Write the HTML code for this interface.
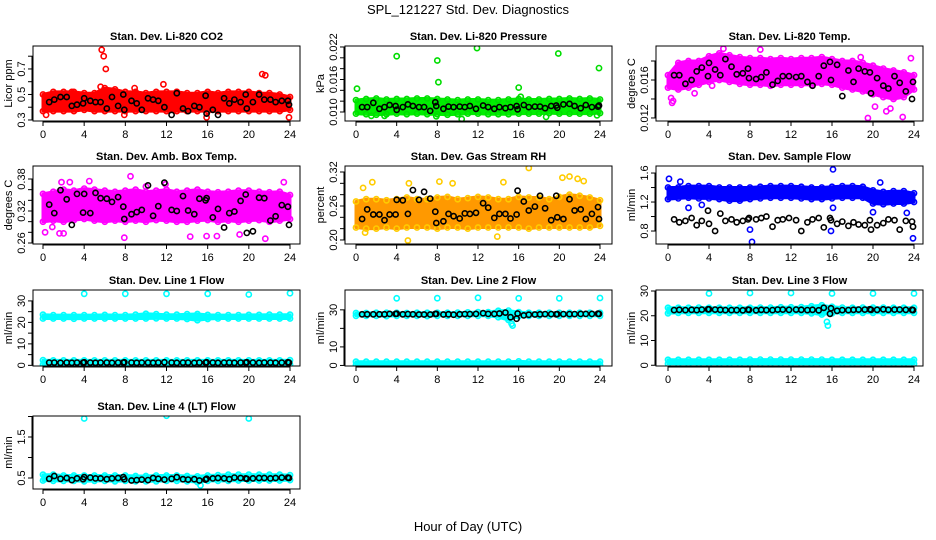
<!DOCTYPE html>
<html><head><meta charset="utf-8"><style>
html,body{margin:0;padding:0;background:#fff;}
svg{display:block;font-family:"Liberation Sans",sans-serif;}
</style></head><body>
<svg id="chart" width="936" height="540" viewBox="0 0 936 540" xmlns="http://www.w3.org/2000/svg">
<rect width="936" height="540" fill="#fff"/>
<text x="468" y="14" font-size="13" text-anchor="middle">SPL_121227  Std. Dev. Diagnostics</text>
<text x="468" y="531" font-size="13" text-anchor="middle">Hour of Day (UTC)</text>
</svg>
<script>
const xTicks=[0,4,8,12,16,20,24];
const bandHours=[0,1,2,3,4,5,6,7,8,9,10,11,12,13,14,15,16,17,18,19,20,21,22,23,24];
const blackHours=[0.6,1.1,1.7,2.3,2.8,3.3,3.9,4.0,4.6,5.1,5.6,6.2,6.7,7.3,7.8,7.9,8.6,9.1,9.6,10.2,10.7,11.2,11.8,12.5,13.0,13.6,14.1,14.7,15.2,15.8,15.9,16.5,17.0,17.6,18.1,18.6,19.2,19.7,19.8,20.4,21.0,21.5,22.1,22.6,23.2,23.8,23.9];

const co2Lo=[0.37,0.37,0.37,0.37,0.38,0.37,0.37,0.37,0.37,0.37,0.37,0.37,0.37,0.37,0.37,0.37,0.37,0.37,0.37,0.37,0.37,0.37,0.37,0.37,0.38];
const co2Hi=[0.50,0.52,0.52,0.52,0.51,0.51,0.55,0.54,0.52,0.52,0.51,0.52,0.52,0.52,0.51,0.51,0.52,0.51,0.52,0.52,0.52,0.51,0.51,0.50,0.48];
const co2Black=[0.44,0.46,0.48,0.48,0.41,0.42,0.43,0.47,0.45,0.44,0.44,0.39,0.48,0.41,0.50,0.38,0.45,0.43,0.38,0.47,0.46,0.45,0.40,0.34,0.51,0.39,0.37,0.41,0.40,0.49,0.35,0.38,0.34,0.47,0.43,0.46,0.44,0.50,0.39,0.44,0.50,0.46,0.46,0.44,0.45,0.45,0.42];
const co2OutX=[5.7,5.9,6.1,5.6,11.7,21.3,21.6,23.9,15.9,7.9,8.9,0.3,2.8,13.0];
const co2OutY=[0.85,0.80,0.70,0.56,0.58,0.66,0.65,0.32,0.32,0.34,0.55,0.34,0.52,0.52];

const presLo=[0.0097,0.0096,0.0095,0.0096,0.0097,0.0096,0.0097,0.0096,0.0096,0.0095,0.0096,0.0097,0.0097,0.0096,0.0096,0.0096,0.0097,0.0097,0.0097,0.0098,0.0097,0.0097,0.0097,0.0097,0.0098];
const presHi=[0.0122,0.0124,0.0125,0.0123,0.0124,0.0124,0.0125,0.0125,0.0124,0.0123,0.0122,0.0123,0.0123,0.0122,0.0122,0.0123,0.0124,0.0123,0.0123,0.0124,0.0124,0.0125,0.0124,0.0125,0.0123];
const presBlack=[0.0109,0.0109,0.0117,0.0106,0.0109,0.0113,0.0111,0.0104,0.0109,0.0114,0.0111,0.0109,0.0109,0.0102,0.0118,0.0111,0.0106,0.0110,0.0109,0.0110,0.0109,0.0111,0.0106,0.0112,0.0109,0.0106,0.0109,0.0107,0.0109,0.0111,0.0105,0.0113,0.0109,0.0110,0.0110,0.0107,0.0111,0.0112,0.0108,0.0114,0.0115,0.0111,0.0107,0.0113,0.0109,0.0110,0.0112];
const presOutX=[0.1,4.0,8.0,8.1,11.9,16.0,19.9,23.9,10.4,18.7,1.5,2.8,7.9,23.7,16.2];
const presOutY=[0.0143,0.0203,0.0195,0.0155,0.0218,0.0145,0.0208,0.0181,0.0087,0.0091,0.0093,0.0093,0.0092,0.0094,0.0128];

const tempLo=[0.0152,0.0150,0.0152,0.0155,0.0158,0.0160,0.0158,0.0156,0.0155,0.0155,0.0154,0.0155,0.0155,0.0155,0.0155,0.0156,0.0155,0.0152,0.0150,0.0148,0.0145,0.0142,0.0140,0.0142,0.0150];
const tempHi=[0.0165,0.0178,0.0180,0.0180,0.0185,0.0188,0.0186,0.0184,0.0183,0.0183,0.0182,0.0183,0.0182,0.0183,0.0183,0.0184,0.0182,0.0180,0.0180,0.0178,0.0175,0.0172,0.0170,0.0168,0.0165];
const tempBlack=[0.0165,0.0165,0.0156,0.0160,0.0169,0.0173,0.0164,0.0178,0.0171,0.0165,0.0182,0.0174,0.0166,0.0167,0.0172,0.0162,0.0161,0.0163,0.0168,0.0155,0.0159,0.0164,0.0164,0.0163,0.0164,0.0158,0.0154,0.0164,0.0175,0.0179,0.0160,0.0176,0.0143,0.0170,0.0158,0.0172,0.0169,0.0168,0.0146,0.0162,0.0154,0.0151,0.0164,0.0157,0.0148,0.0140,0.0158];
const tempOutX=[0.4,0.5,2.6,19.5,22.9,21.3,18.8,23.7,9.0,5.4,0.3,20.2,21.7,4.3];
const tempOutY=[0.0136,0.0138,0.0146,0.0120,0.0121,0.0127,0.0184,0.0183,0.0192,0.0193,0.0141,0.0132,0.0130,0.0154];

const ambLo=[0.300,0.302,0.300,0.303,0.305,0.302,0.300,0.302,0.300,0.302,0.300,0.303,0.302,0.300,0.300,0.302,0.303,0.300,0.302,0.300,0.302,0.303,0.300,0.302,0.305];
const ambHi=[0.352,0.356,0.360,0.358,0.362,0.360,0.358,0.356,0.358,0.360,0.356,0.358,0.360,0.356,0.358,0.360,0.356,0.355,0.356,0.358,0.358,0.356,0.355,0.356,0.350];
const ambBlack=[0.332,0.316,0.359,0.342,0.294,0.352,0.317,0.352,0.316,0.354,0.344,0.343,0.337,0.346,0.328,0.305,0.314,0.318,0.322,0.368,0.311,0.329,0.373,0.322,0.320,0.348,0.321,0.314,0.343,0.340,0.344,0.308,0.324,0.289,0.316,0.319,0.339,0.351,0.279,0.282,0.345,0.344,0.302,0.310,0.331,0.328,0.294];
const ambOutX=[0.2,1.8,2.6,8.5,11.9,0.9,2.0,7.9,16.9,15.9,21.6,19.1,23.4,14.3,4.5,10.0,1.6];
const ambOutY=[0.280,0.374,0.374,0.385,0.370,0.290,0.278,0.270,0.273,0.273,0.268,0.276,0.374,0.272,0.376,0.366,0.278];

const rhLo=[0.222,0.220,0.220,0.222,0.220,0.222,0.222,0.222,0.220,0.222,0.222,0.220,0.222,0.222,0.222,0.222,0.222,0.220,0.222,0.222,0.222,0.222,0.222,0.222,0.225];
const rhHi=[0.268,0.272,0.272,0.270,0.272,0.275,0.272,0.272,0.275,0.276,0.272,0.274,0.276,0.275,0.272,0.272,0.276,0.275,0.275,0.272,0.276,0.280,0.278,0.275,0.270];
const rhBlack=[0.237,0.254,0.245,0.245,0.235,0.245,0.245,0.271,0.270,0.246,0.288,0.271,0.285,0.273,0.250,0.230,0.233,0.246,0.242,0.238,0.247,0.246,0.248,0.265,0.257,0.239,0.246,0.246,0.238,0.245,0.287,0.268,0.252,0.259,0.278,0.256,0.235,0.278,0.240,0.237,0.272,0.252,0.254,0.237,0.246,0.258,0.237];
const rhOutX=[0.7,1.6,5.1,5.2,8.2,14.5,17.0,19.4,20.3,21.0,21.8,9.5,0.9,13.9,22.4];
const rhOutY=[0.292,0.302,0.199,0.300,0.303,0.302,0.327,0.336,0.310,0.312,0.308,0.300,0.213,0.206,0.304];

const flowLo=[1.24,1.25,1.26,1.25,1.25,1.24,1.22,1.22,1.24,1.25,1.26,1.26,1.26,1.25,1.24,1.24,1.25,1.26,1.26,1.26,1.18,1.17,1.18,1.18,1.20];
const flowHi=[1.40,1.40,1.42,1.42,1.42,1.40,1.40,1.40,1.40,1.41,1.42,1.42,1.42,1.41,1.40,1.40,1.41,1.42,1.42,1.41,1.36,1.34,1.35,1.35,1.32];
const flowBlack=[0.96,0.92,0.94,0.98,0.88,0.94,1.08,0.90,0.80,1.04,0.94,0.96,0.92,0.94,0.96,0.98,0.96,0.98,1.00,0.86,0.95,0.96,0.98,0.95,0.80,0.92,0.96,0.98,0.85,0.98,0.95,0.90,0.93,0.87,0.92,0.89,0.88,0.95,0.82,0.88,0.91,0.96,0.95,0.82,0.94,0.93,0.86];
const flowOutX=[8.2,16.1,0.1,23.9,8.0,15.9,20.7,2.0,3.3,1.2,20.0,16.1,23.3];
const flowOutY=[0.65,1.65,1.52,0.70,0.82,0.80,1.47,1.12,1.16,1.48,1.06,1.12,1.05];

const l1Lo=[21.8,21.8,21.8,21.7,21.8,21.8,21.8,21.8,21.8,21.8,21.8,21.9,21.8,21.8,21.6,21.0,21.6,21.8,21.8,21.8,21.8,21.8,21.8,21.8,21.8];
const l1Hi=[23.6,23.4,23.4,23.4,23.4,23.4,23.5,23.4,23.4,23.6,24.0,23.8,23.6,23.6,23.8,23.9,23.5,23.4,23.4,23.4,23.5,23.5,23.6,23.6,23.6];
const l1Lo2=[0.4,0.4,0.4,0.4,0.4,0.4,0.4,0.4,0.4,0.4,0.4,0.4,0.4,0.4,0.4,0.4,0.4,0.4,0.4,0.4,0.4,0.4,0.4,0.4,0.4];
const l1Hi2=[2.4,2.3,2.3,2.3,2.3,2.3,2.3,2.3,2.3,2.3,2.3,2.3,2.3,2.3,2.3,2.3,2.3,2.3,2.3,2.3,2.3,2.3,2.3,2.3,2.4];
const l1Black=[1.3,1.3,1.2,1.3,1.2,1.3,1.3,1.4,1.3,1.2,1.3,1.3,1.2,1.3,1.3,1.4,1.3,1.2,1.3,1.3,1.2,1.3,1.4,1.3,1.2,1.3,1.3,1.2,1.3,1.3,1.4,1.3,1.2,1.3,1.3,1.2,1.3,1.3,1.4,1.3,1.2,1.3,1.3,1.2,1.3,1.4,1.3];
const l1OutX=[4,8,12,16,20,24];
const l1OutY=[33.3,33.3,33.3,33.3,33.0,33.6];

const l2Lo=[26.8,26.8,26.8,26.6,26.8,26.8,26.8,26.6,26.8,26.8,26.8,26.8,26.8,26.8,26.0,24.5,26.5,26.8,26.8,26.8,26.8,26.8,26.8,26.8,26.8];
const l2Hi=[28.3,28.3,28.4,28.4,28.4,28.3,28.4,28.4,28.4,28.4,28.5,28.6,28.8,28.8,29.5,29.6,28.8,28.4,28.4,28.4,28.4,28.4,28.4,28.4,28.4];
const l2Lo2=[0.3,0.3,0.3,0.3,0.3,0.3,0.3,0.3,0.3,0.3,0.3,0.3,0.3,0.3,0.3,0.3,0.3,0.3,0.3,0.3,0.3,0.3,0.3,0.3,0.3];
const l2Hi2=[2.0,2.0,2.0,2.0,2.0,2.0,2.0,2.0,2.0,2.0,2.0,2.0,2.0,2.0,2.0,2.0,2.2,2.0,2.0,2.0,2.0,2.0,2.0,2.0,2.0];
const l2Black=[27.6,27.6,27.6,27.6,27.6,27.8,27.8,27.9,27.6,27.7,27.6,27.5,27.5,27.5,27.8,27.8,27.5,27.6,27.4,27.6,27.7,27.7,27.8,28.2,27.8,27.8,28.0,28.5,26.0,25.2,28.0,27.0,27.4,27.5,27.6,27.7,27.7,27.6,27.7,27.7,27.7,27.7,27.8,27.8,27.8,27.9,27.8];
const l2OutX=[4,8,12,16,20,24,15.3,15.4];
const l2OutY=[36.2,36.3,36.5,36.2,36.2,36.4,22.5,21.5];

const l3Lo=[21.0,21.2,21.2,21.2,21.2,21.2,21.2,21.2,21.2,21.2,21.2,21.2,21.2,21.2,21.0,20.5,21.0,21.2,21.2,21.2,21.2,21.2,21.2,21.2,21.2];
const l3Hi=[23.2,23.2,23.2,23.3,23.2,23.2,23.2,23.2,23.2,23.3,23.3,23.4,23.4,23.5,23.8,24.2,23.6,23.3,23.2,23.3,23.3,23.3,23.2,23.2,23.2];
const l3Lo2=[0.6,0.6,0.6,0.6,0.6,0.6,0.6,0.6,0.6,0.6,0.6,0.6,0.6,0.6,0.6,0.6,0.6,0.6,0.6,0.6,0.6,0.6,0.6,0.6,0.6];
const l3Hi2=[2.2,2.2,2.2,2.2,2.2,2.2,2.2,2.2,2.3,2.3,2.3,2.3,2.3,2.3,2.3,2.3,2.2,2.2,2.2,2.2,2.2,2.2,2.2,2.2,2.2];
const l3Black=[22.3,22.4,22.3,22.4,22.3,22.5,22.6,22.6,22.5,22.4,22.3,22.3,22.3,22.2,22.5,22.4,22.2,22.4,22.3,22.3,22.5,22.5,22.4,22.5,22.4,22.3,22.4,22.2,23.2,20.8,23.0,22.0,22.3,22.3,22.4,22.5,22.5,22.6,22.4,22.4,22.6,22.4,22.5,22.5,22.4,22.4,22.3];
const l3OutX=[4,8,12,16,20,24,15.5,15.6];
const l3OutY=[29.0,29.2,29.2,29.0,29.0,29.0,17.5,16.0];

const l4Lo=[0.44,0.43,0.43,0.43,0.42,0.43,0.43,0.42,0.43,0.42,0.42,0.42,0.43,0.43,0.42,0.40,0.43,0.43,0.43,0.44,0.44,0.44,0.44,0.44,0.45];
const l4Hi=[0.58,0.58,0.56,0.56,0.56,0.56,0.56,0.56,0.56,0.55,0.55,0.56,0.56,0.56,0.55,0.54,0.56,0.57,0.58,0.58,0.58,0.58,0.58,0.58,0.57];
const l4Black=[0.48,0.55,0.48,0.50,0.45,0.49,0.47,0.52,0.51,0.49,0.49,0.47,0.49,0.50,0.52,0.47,0.44,0.45,0.46,0.45,0.50,0.48,0.46,0.48,0.52,0.47,0.46,0.47,0.44,0.46,0.48,0.49,0.50,0.49,0.47,0.51,0.50,0.49,0.48,0.49,0.50,0.50,0.49,0.50,0.51,0.51,0.50];
const l4OutX=[4,12,20,15.3];
const l4OutY=[1.95,2.02,1.95,0.32];

const yTicks1=[0.3,0.4,0.5,0.6,0.7,0.8], yLab1=["0.3","","0.5","","0.7",""];
const yTicks2=[0.010,0.012,0.014,0.016,0.018,0.020,0.022], yLab2=["0.010","","","0.016","","","0.022"];
const yTicks3=[0.012,0.014,0.016,0.018], yLab3=["0.012","","0.016",""];
const yTicks4=[0.26,0.28,0.30,0.32,0.34,0.36,0.38], yLab4=["0.26","","","0.32","","","0.38"];
const yTicks5=[0.20,0.22,0.24,0.26,0.28,0.30,0.32], yLab5=["0.20","","","0.26","","","0.32"];
const yTicks6=[0.8,1.0,1.2,1.4,1.6], yLab6=["0.8","","1.2","","1.6"];
const yTicks7=[0,5,10,15,20,25,30], yLab7=["0","","10","","20","","30"];
const yTicks8=[0,10,20,30], yLab8=["0","10","","30"];
const yTicks9=[0,10,20,30], yLab9=["0","10","20","30"];
const yTicks10=[0.5,1.0,1.5,2.0], yLab10=["0.5","","1.5",""];

const svg=document.getElementById('chart');
const NS='http://www.w3.org/2000/svg';
function mk(tag,attrs,parent){const e=document.createElementNS(NS,tag);for(const k in attrs)e.setAttribute(k,attrs[k]);(parent||svg).appendChild(e);return e;}

const cols=[{bl:33,br:300,x0:43,x1:290},{bl:345,br:612,x0:356,x1:600},{bl:656,br:923,x0:668,x1:914}];
const rows=[{t:46,b:121},{t:166,b:244},{t:290,b:366},{t:416,b:489}];

const panels=[
 {id:'co2',title:'Stan. Dev. Li-820 CO2',ylab:'Licor ppm',c:0,r:0,ymin:0.292,ymax:0.880,col:'#ff0000',edge:'#ff0000',bands:[[co2Lo,co2Hi]],black:co2Black,ox:co2OutX,oy:co2OutY,ticks:yTicks1,labs:yLab1},
 {id:'pressure',title:'Stan. Dev. Li-820 Pressure',ylab:'kPa',c:1,r:0,ymin:0.00834,ymax:0.02218,col:'#00ee00',edge:'#00dd00',bands:[[presLo,presHi]],black:presBlack,ox:presOutX,oy:presOutY,ticks:yTicks2,labs:yLab2},
 {id:'temp',title:'Stan. Dev. Li-820 Temp.',ylab:'degrees C',c:2,r:0,ymin:0.01168,ymax:0.01958,col:'#ff00ff',edge:'#ff00ff',bands:[[tempLo,tempHi]],black:tempBlack,ox:tempOutX,oy:tempOutY,ticks:yTicks3,labs:yLab3},
 {id:'amb-temp',title:'Stan. Dev. Amb. Box Temp.',ylab:'degrees C',c:0,r:1,ymin:0.2581,ymax:0.4044,col:'#ff00ff',edge:'#ff00ff',bands:[[ambLo,ambHi]],black:ambBlack,ox:ambOutX,oy:ambOutY,ticks:yTicks4,labs:yLab4},
 {id:'rh',title:'Stan. Dev. Gas Stream RH',ylab:'percent',c:1,r:1,ymin:0.1929,ymax:0.3306,col:'#ff9900',edge:'#ffcc00',bands:[[rhLo,rhHi]],black:rhBlack,ox:rhOutX,oy:rhOutY,ticks:yTicks5,labs:yLab5},
 {id:'sample-flow',title:'Stan. Dev. Sample Flow',ylab:'ml/min',c:2,r:1,ymin:0.621,ymax:1.697,col:'#0000ff',edge:'#0000ff',bands:[[flowLo,flowHi]],black:flowBlack,ox:flowOutX,oy:flowOutY,ticks:yTicks6,labs:yLab6},
 {id:'line1',title:'Stan. Dev. Line 1 Flow',ylab:'ml/min',c:0,r:2,ymin:-0.3,ymax:35.08,col:'#00ffff',edge:'#00ffff',bands:[[l1Lo,l1Hi],[l1Lo2,l1Hi2]],black:l1Black,ox:l1OutX,oy:l1OutY,ticks:yTicks7,labs:yLab7},
 {id:'line2',title:'Stan. Dev. Line 2 Flow',ylab:'ml/min',c:1,r:2,ymin:-0.3,ymax:40.7,col:'#00ffff',edge:'#00ffff',bands:[[l2Lo,l2Hi],[l2Lo2,l2Hi2]],black:l2Black,ox:l2OutX,oy:l2OutY,ticks:yTicks8,labs:yLab8},
 {id:'line3',title:'Stan. Dev. Line 3 Flow',ylab:'ml/min',c:2,r:2,ymin:-0.3,ymax:30.4,col:'#00ffff',edge:'#00ffff',bands:[[l3Lo,l3Hi],[l3Lo2,l3Hi2]],black:l3Black,ox:l3OutX,oy:l3OutY,ticks:yTicks9,labs:yLab9},
 {id:'line4',title:'Stan. Dev. Line 4 (LT) Flow',ylab:'ml/min',c:0,r:3,ymin:0.232,ymax:2.012,col:'#00ffff',edge:'#00ffff',bands:[[l4Lo,l4Hi]],black:l4Black,ox:l4OutX,oy:l4OutY,ticks:yTicks10,labs:yLab10}
];

function circ(g,x,y,stroke,name){
  const c=mk('circle',{cx:x.toFixed(1),cy:y.toFixed(1),r:2.6,fill:'none',stroke:stroke,'stroke-width':1.6},g);
  
  
}

panels.forEach(p=>{
  const C=cols[p.c],R=rows[p.r];
  const xs=v=>C.x0+(v/24)*(C.x1-C.x0);
  const ys=v=>R.b-(v-p.ymin)/(p.ymax-p.ymin)*(R.b-R.t);
  const g=mk('g',{});
  
  
  const clip=mk('clipPath',{id:'clip-'+p.id},g);
  mk('rect',{x:C.bl,y:R.t,width:C.br-C.bl,height:R.b-R.t},clip);
  const t=mk('text',{x:(C.bl+C.br)/2,y:R.t-6,'font-size':11,'font-weight':'bold','text-anchor':'middle'},g);
  t.textContent=p.title;
  
  
  const yl=mk('text',{x:0,y:0,'font-size':11,'text-anchor':'middle',transform:`translate(${C.bl-21},${(R.t+R.b)/2}) rotate(-90)`},g);
  yl.textContent=p.ylab;
  
  
  // data
  const dg=mk('g',{'clip-path':`url(#clip-${p.id})`},g);
  
  
  p.bands.forEach(([lo,hi])=>{
    let pts=bandHours.map((h,i)=>xs(h).toFixed(1)+','+ys(hi[i]).toFixed(1));
    pts=pts.concat(bandHours.slice().reverse().map((h,j)=>{const i=bandHours.length-1-j;return xs(h).toFixed(1)+','+ys(lo[i]).toFixed(1);}));
    const pg=mk('polygon',{points:pts.join(' '),fill:p.col,stroke:p.col,'stroke-width':3,'stroke-linejoin':'round'},dg);
    
    
    bandHours.forEach((h,i)=>{circ(dg,xs(h),ys(hi[i]),p.edge,'band-point');circ(dg,xs(h),ys(lo[i]),p.edge,'band-point');});
  });
  p.ox.forEach((x,i)=>circ(dg,xs(x),ys(p.oy[i]),p.edge,'outlier-point'));
  blackHours.forEach((h,i)=>circ(dg,xs(h),ys(p.black[i]),'#000','black-point'));
  // box
  const bx=mk('rect',{x:C.bl,y:R.t,width:C.br-C.bl,height:R.b-R.t,fill:'none',stroke:'#000','stroke-width':1},g);
  
  
  // x axis
  mk('line',{x1:xs(0),x2:xs(24),y1:R.b+1,y2:R.b+1,stroke:'#000'},g);
  xTicks.forEach(v=>{
    mk('line',{x1:xs(v),x2:xs(v),y1:R.b,y2:R.b+5,stroke:'#000'},g);
    const tl=mk('text',{x:xs(v),y:R.b+17,'font-size':11,'text-anchor':'middle'},g);
    tl.textContent=String(v);
    
    
  });
  // y axis
  mk('line',{x1:C.bl-1,x2:C.bl-1,y1:ys(p.ticks[0]),y2:ys(p.ticks[p.ticks.length-1]),stroke:'#000'},g);
  p.ticks.forEach((v,i)=>{
    mk('line',{x1:C.bl-5,x2:C.bl,y1:ys(v),y2:ys(v),stroke:'#000'},g);
    if(p.labs[i]){
      const tl=mk('text',{x:0,y:0,'font-size':11,'text-anchor':'middle',transform:`translate(${C.bl-8},${ys(v)}) rotate(-90)`},g);
      tl.textContent=p.labs[i];
      
      
    }
  });
});
</script>
</body></html>
